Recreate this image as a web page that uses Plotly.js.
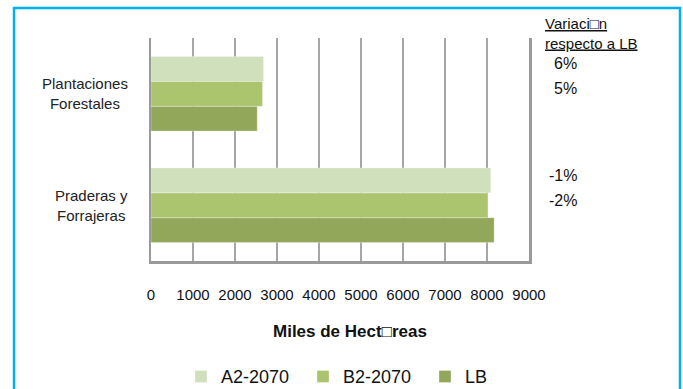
<!DOCTYPE html>
<html>
<head>
<meta charset="utf-8">
<script src="https://cdn.plot.ly/plotly-3.0.1.min.js"></script>
<style>
html,body{margin:0;padding:0;background:#fff;}
#chart{width:683px;height:389px;}
</style>
</head>
<body>
<div id="chart"></div>
<script>
// ---- data ----
var categories = ['Praderas y<br>Forrajeras', 'Plantaciones<br>Forestales'];
var seriesNames = ['LB', 'B2-2070', 'A2-2070'];
var valuesLB = [8170, 2530];
var valuesB2 = [8010, 2655];
var valuesA2 = [8090, 2680];
var pctA2 = ['-1%', '6%'];
var pctB2 = ['-2%', '5%'];
var xTickVals = [0, 1000, 2000, 3000, 4000, 5000, 6000, 7000, 8000, 9000];
var xTickText = ['0', '1000', '2000', '3000', '4000', '5000', '6000', '7000', '8000', '9000'];
var xTitle = 'Miles de Hect\u25A1reas';
var noteTitle = ['Variaci\u25A1n', 'respecto a LB'];

var colors = {'LB': '#93a75a', 'B2-2070': '#abc46e', 'A2-2070': '#d0dfbc'};
var FONT = 'Liberation Sans, Arial, sans-serif';

// layout geometry (pixels)
var W = 683, H = 389;
var L = 151, R = 683 - 529, T = 38, B = 389 - 261;
var plotW = W - L - R, plotH = H - T - B;
function px2x(px) { return (px - L) / plotW; }
function py2y(py) { return (H - B - py) / plotH; }

var yIdx = categories.map(function (c, i) { return i; });
var seriesVals = [valuesLB, valuesB2, valuesA2];

var traces = seriesNames.map(function (name, k) {
  return {
    type: 'bar',
    orientation: 'h',
    name: name,
    x: seriesVals[k],
    y: yIdx,
    marker: {color: colors[name], line: {color: 'rgba(255,255,255,0.6)', width: 0.5}},
    hoverinfo: 'x+name'
  };
});

var bargap = 0.33;
var barW = (1 - bargap) / 3;

var annotations = [];
categories.forEach(function (c, i) {
  annotations.push({
    xref: 'paper', yref: 'y', x: px2x(130), y: i,
    xanchor: 'right', yanchor: 'middle', align: 'center',
    text: c, showarrow: false,
    font: {family: FONT, size: 15, color: '#222'}
  });
  annotations.push({
    xref: 'paper', yref: 'y', x: px2x(579), y: i + barW, yshift: 5,
    xanchor: 'right', yanchor: 'middle', align: 'right',
    text: pctA2[i], showarrow: false,
    font: {family: FONT, size: 16, color: '#111'}
  });
  annotations.push({
    xref: 'paper', yref: 'y', x: px2x(579), y: i, yshift: 5,
    xanchor: 'right', yanchor: 'middle', align: 'right',
    text: pctB2[i], showarrow: false,
    font: {family: FONT, size: 16, color: '#111'}
  });
});
annotations.push({
  xref: 'paper', yref: 'paper', x: px2x(543), y: py2y(33.5),
  xanchor: 'left', yanchor: 'middle', align: 'left',
  text: noteTitle.map(function (t) { return '<u>' + t + '</u>'; }).join('<br>'),
  showarrow: false,
  font: {family: FONT, size: 15, color: '#111'}
});
annotations.push({
  xref: 'paper', yref: 'paper', x: px2x(350), y: py2y(331.7),
  xanchor: 'center', yanchor: 'middle',
  text: '<b>' + xTitle + '</b>', showarrow: false,
  font: {family: FONT, size: 17, color: '#111'}
});

var layout = {
  width: W, height: H,
  margin: {l: L, r: R, t: T, b: B, pad: 0, autoexpand: false},
  paper_bgcolor: '#ffffff',
  plot_bgcolor: '#ffffff',
  barmode: 'group',
  bargap: bargap,
  bargroupgap: 0,
  showlegend: true,
  legend: {
    orientation: 'h',
    traceorder: 'reversed',
    x: px2x(181), xanchor: 'left',
    y: py2y(376.7), yanchor: 'middle',
    entrywidth: 77, entrywidthmode: 'pixels',
    itemwidth: 30,
    font: {family: FONT, size: 18, color: '#111'},
    bgcolor: 'rgba(0,0,0,0)'
  },
  xaxis: {
    range: [0, 9000],
    tickvals: xTickVals,
    ticktext: xTickText,
    showgrid: true,
    gridcolor: '#a6a6a6',
    gridwidth: 2,
    zeroline: false,
    showline: true,
    linecolor: '#9a9a9a',
    linewidth: 2.5,
    ticks: '',
    ticklabelstandoff: 18,
    tickfont: {family: FONT, size: 15, color: '#111'},
    automargin: false,
    fixedrange: true
  },
  yaxis: {
    range: [-0.5, 1.5],
    tickvals: yIdx,
    showticklabels: false,
    showgrid: false,
    zeroline: false,
    showline: true,
    mirror: true,
    linecolor: '#9a9a9a',
    linewidth: 2.5,
    ticks: '',
    automargin: false,
    fixedrange: true
  },
  annotations: annotations,
  shapes: [{
    type: 'rect', xref: 'paper', yref: 'paper', layer: 'above',
    x0: px2x(14), x1: px2x(680), y0: py2y(400), y1: py2y(8),
    line: {color: '#00b0f0', width: 2.5}, fillcolor: 'rgba(0,0,0,0)'
  }]
};

Plotly.newPlot('chart', traces, layout, {displayModeBar: false, staticPlot: true});
</script>
</body>
</html>
